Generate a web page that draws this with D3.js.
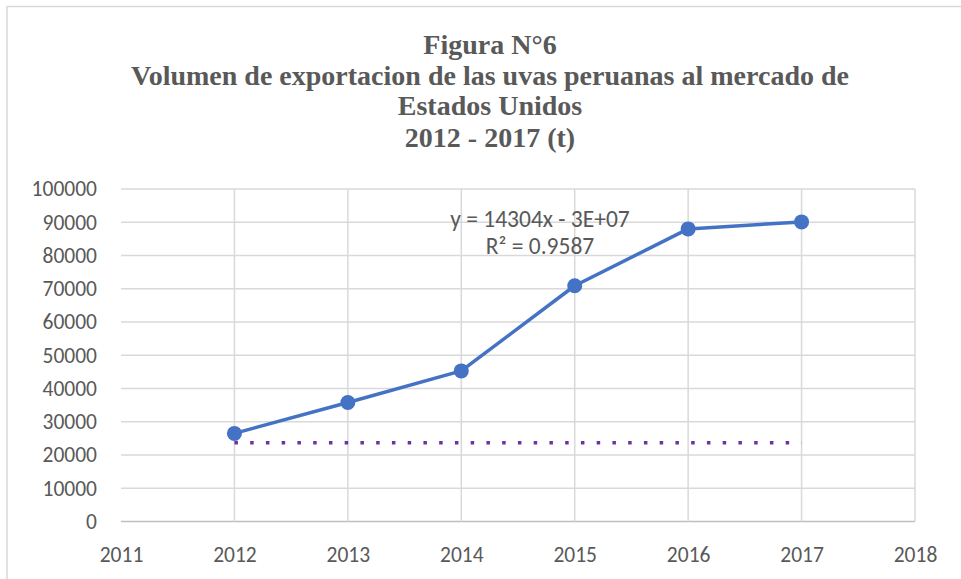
<!DOCTYPE html>
<html>
<head>
<meta charset="utf-8">
<script src="https://cdn.jsdelivr.net/npm/d3@7"></script>
<style>
    body { margin: 0; background: #fff; }
    svg { display: block; }
</style>
</head>
<body>
<svg width="961" height="579"></svg>
<script>
// data
var years = [2012, 2013, 2014, 2015, 2016, 2017];
var volumen = [26500, 35800, 45300, 70900, 88000, 90100];
var trendValue = [23700, 23700]; // dotted trendline as drawn (flat)
var trendYears = [2012, 2017];
var yTicks = d3.range(0, 100001, 10000);
var xTicks = d3.range(2011, 2019, 1);
var titleLines = ["Figura N°6", "Volumen de exportacion de las uvas peruanas al mercado de", "Estados Unidos", "2012 - 2017 (t)"];
var eqLines = ["y = 14304x - 3E+07", "R² = 0.9587"];

var svg = d3.select("svg");
var grey = "#595959";
var gridColor = "#d9d9d9";
var labelFont = "Carlito, Calibri, Lato, sans-serif";

// chart border (runs off the right and bottom of the window)
svg.append("rect")
    .attr("x", 7).attr("y", 6.5)
    .attr("width", 1000).attr("height", 1000)
    .attr("fill", "none")
    .attr("stroke", "#d9d9d9")
    .attr("stroke-width", 1.5);

var x = d3.scaleLinear().domain([2011, 2018]).range([121, 915]);
var y = d3.scaleLinear().domain([0, 100000]).range([521.5, 189]);

// horizontal grid
svg.append("g").selectAll("line").data(yTicks).enter().append("line")
    .attr("x1", x(2011)).attr("x2", x(2018))
    .attr("y1", function (d) { return y(d); })
    .attr("y2", function (d) { return y(d); })
    .attr("stroke", function (d) { return d === 0 ? "#bfbfbf" : gridColor; })
    .attr("stroke-width", 1.5);

// vertical grid
svg.append("g").selectAll("line").data(xTicks.slice(1)).enter().append("line")
    .attr("x1", function (d) { return x(d); })
    .attr("x2", function (d) { return x(d); })
    .attr("y1", y(100000)).attr("y2", y(0))
    .attr("stroke", gridColor)
    .attr("stroke-width", 1.5);

// axes labels (domain and ticks hidden, Excel style)
var yAxis = svg.append("g")
    .attr("transform", "translate(" + x(2011) + ",0)")
    .call(d3.axisLeft(y).tickValues(yTicks).tickSize(0).tickPadding(24).tickFormat(d3.format("d")));
var xAxis = svg.append("g")
    .attr("transform", "translate(0," + y(0) + ")")
    .call(d3.axisBottom(x).tickValues(xTicks).tickSize(0).tickFormat(d3.format("d")));
[yAxis, xAxis].forEach(function (a) {
    a.select(".domain").remove();
    a.selectAll("text")
        .attr("fill", grey)
        .style("font-family", labelFont)
        .style("font-size", "21.5px");
});
xAxis.selectAll("text").attr("dy", null).attr("y", 40.5);

// trendline
svg.append("path")
    .datum(trendYears)
    .attr("d", d3.line()
        .x(function (d) { return x(d); })
        .y(function (d, i) { return y(trendValue[i]); }))
    .attr("fill", "none")
    .attr("stroke", "#7030a0")
    .attr("stroke-width", 3.5)
    .attr("stroke-dasharray", "3.5,12.25");

// series line
var line = d3.line()
    .x(function (d) { return x(d); })
    .y(function (d, i) { return y(volumen[i]); });

svg.append("path")
    .datum(years)
    .attr("d", line)
    .attr("fill", "none")
    .attr("stroke", "#4472c4")
    .attr("stroke-width", 3.5)
    .attr("stroke-linejoin", "round");

svg.append("g").selectAll("circle").data(years).enter().append("circle")
    .attr("cx", function (d) { return x(d); })
    .attr("cy", function (d, i) { return y(volumen[i]); })
    .attr("r", 7.5)
    .attr("fill", "#4472c4");

// equation label
svg.append("g").selectAll("text").data(eqLines).enter().append("text")
    .attr("x", 540)
    .attr("y", function (d, i) { return 227 + i * 27; })
    .attr("text-anchor", "middle")
    .attr("fill", grey)
    .style("font-family", labelFont)
    .style("font-size", "23.5px")
    .text(function (d) { return d; });

// title
svg.append("g").selectAll("text").data(titleLines).enter().append("text")
    .attr("x", 490)
    .attr("y", function (d, i) { return [54, 85, 115, 147][i]; })
    .attr("text-anchor", "middle")
    .attr("fill", grey)
    .style("font-family", "'Liberation Serif', 'Times New Roman', serif")
    .style("font-weight", "bold")
    .style("font-size", "28px")
    .text(function (d) { return d; });
</script>
</body>
</html>
